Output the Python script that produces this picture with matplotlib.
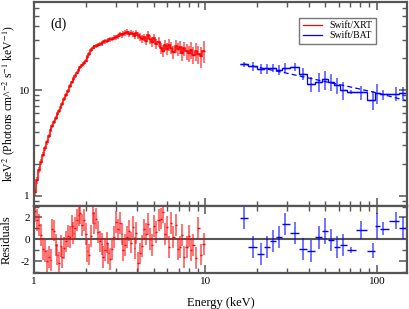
import numpy as np
import matplotlib
matplotlib.use("Agg")
from matplotlib import pyplot as plt
from matplotlib.lines import Line2D
from matplotlib.ticker import LogLocator, NullFormatter, FixedLocator, FixedFormatter

plt.rcParams['font.family'] = ['Liberation Serif', 'DejaVu Serif']
plt.rcParams['mathtext.fontset'] = 'stix'
plt.rcParams['axes.unicode_minus'] = False

## Swift/XRT spectrum, keV^2 (Photons cm^-2 s^-1 keV^-1)
xrt_energy = [1.01, 1.04, 1.07, 1.10, 1.13, 1.16, 1.19, 1.22, 1.25, 1.28,
              1.31, 1.34, 1.37, 1.40, 1.43, 1.46, 1.50, 1.54, 1.58, 1.62,
              1.66, 1.70, 1.74, 1.78, 1.82, 1.86, 1.90, 1.95, 2.00, 2.05,
              2.10, 2.15, 2.20, 2.25, 2.30, 2.36, 2.42, 2.48, 2.54, 2.60,
              2.66, 2.72, 2.79, 2.86, 2.93, 3.00, 3.08, 3.16, 3.24, 3.32,
              3.40, 3.49, 3.58, 3.67, 3.76, 3.86, 3.96, 4.06, 4.17, 4.28,
              4.40, 4.52, 4.64, 4.77, 4.90, 5.04, 5.18, 5.33, 5.48, 5.64,
              5.80, 5.97, 6.14, 6.32, 6.51, 6.70, 6.90, 7.10, 7.32, 7.54,
              7.77, 8.01, 8.26, 8.52, 8.80, 9.10, 9.42, 9.76]
xrt_flux = [1.08, 1.40, 1.75, 2.10, 2.45, 2.80, 3.20, 3.70, 4.20, 4.55,
            4.95, 5.40, 5.90, 6.35, 6.85, 7.40, 8.20, 9.00, 9.80, 10.9,
            11.8, 12.7, 13.6, 14.6, 15.5, 16.4, 17.1, 18.0, 19.0, 20.5,
            22.0, 23.8, 25.2, 25.9, 26.3, 26.8, 27.4, 27.2, 28.3, 28.8,
            29.0, 29.6, 30.2, 30.5, 31.2, 31.5, 32.4, 33.6, 33.0, 34.2,
            34.6, 35.4, 34.0, 35.0, 33.8, 32.6, 34.5, 33.0, 31.8, 30.4,
            31.6, 29.0, 33.5, 30.2, 28.6, 31.0, 27.2, 28.4, 25.0, 23.6,
            26.4, 24.6, 26.8, 25.2, 23.0, 26.0, 24.4, 25.6, 22.6, 24.8,
            23.2, 22.4, 24.0, 21.6, 23.4, 22.0, 20.8, 23.4]
xrt_err = [0.09, 0.10, 0.12, 0.13, 0.14, 0.15, 0.16, 0.18, 0.20, 0.21,
           0.22, 0.24, 0.25, 0.27, 0.28, 0.30, 0.33, 0.36, 0.39, 0.43,
           0.46, 0.50, 0.53, 0.57, 0.60, 0.64, 0.67, 0.70, 0.75, 0.82,
           0.88, 0.95, 1.0, 1.05, 1.1, 1.1, 1.2, 1.2, 1.3, 1.3,
           1.4, 1.4, 1.5, 1.5, 1.6, 1.6, 1.7, 1.8, 1.8, 1.9,
           2.0, 2.0, 2.1, 2.2, 2.2, 2.3, 2.4, 2.4, 2.5, 2.5,
           2.6, 2.6, 2.8, 2.8, 2.8, 3.0, 2.9, 3.0, 2.9, 2.9,
           3.1, 3.1, 3.3, 3.3, 3.2, 3.5, 3.5, 3.7, 3.6, 3.9,
           3.9, 3.9, 4.2, 4.0, 4.4, 4.3, 4.6, 5.5]
xrt_resid = [2.6, 1.8, 1.3, 0.4, -0.9, -1.1, -2.0, -1.6, -1.9, 0.9,
             0.8, -0.5, -1.4, -2.2, -0.6, -1.6, -0.8, -0.2, 0.3, 0.2,
             1.2, 0.6, 1.0, 1.8, 2.2, 2.4, 1.3, 1.8, 0.5, -1.1,
             -1.4, 0.3, 2.4, 1.5, 1.9, 0.7, -0.2, -0.4, -1.6, -1.0,
             -0.3, -1.3, -1.8, -0.9, 0.2, 1.6, 0.9, 1.5, 0.5, -1.0,
             -0.5, 0.2, 0.8, -0.3, 1.1, -0.8, 0.6, -2.2, -1.3, -0.6,
             0.9, 0.5, 1.4, 0.0, -0.5, 1.2, 0.7, 1.8, 1.9, 2.5,
             0.5, 1.1, -0.7, 1.5, 0.2, 1.3, -0.9, -0.7, 0.4, -1.6,
             -0.7, 0.3, -1.0, -0.5, -1.7, 1.0, -1.4, -0.4]

## Swift/BAT spectrum
bat_energy = [16.8, 18.9, 21.0, 23.0, 24.9, 27.0, 29.0, 33.1, 37.2, 41.1,
              46.0, 49.7, 53.9, 58.9, 63.8, 71.0, 81.0, 94.6, 100.0, 109.0,
              129.0, 142.0]
bat_flux = [17.6, 16.8, 15.8, 16.0, 16.3, 15.6, 16.2, 16.6, 14.2, 11.4,
            12.0, 12.6, 12.0, 11.1, 10.0, 9.6, 9.5, 8.1, 9.3, 9.1,
            9.2, 9.4]
bat_err = [1.0, 1.5, 1.7, 1.7, 1.5, 1.8, 1.7, 1.6, 1.8, 1.8,
           2.4, 2.6, 2.2, 2.0, 2.0, 0.4, 1.4, 1.6, 2.0, 1.0,
           1.4, 1.2]
bat_resid = [1.93, -0.73, -1.35, -0.68, -0.13, 0.24, 1.40, 0.55, -0.92, -1.05,
             0.18, 0.79, -0.06, -0.73, -0.52, -0.98, 0.85, -1.05, 1.22, 0.97,
             1.71, 1.01]
bat_resid_err = [1.0, 1.0, 1.0, 1.0, 1.0, 1.0, 1.0, 1.0, 1.0, 1.0,
                 1.05, 1.2, 1.0, 1.0, 1.0, 0.25, 0.8, 0.7, 1.2, 0.6,
                 0.8, 1.0]

## BAT model component (dashed)
bat_model_energy = [16.8, 20, 30, 40, 50, 60, 70, 80, 100, 120, 150]
bat_model_flux = [17.6, 16.5, 14.4, 13.0, 12.0, 11.3, 10.7, 10.2, 9.4, 8.7, 7.9]

RED = '#ff0000'
BLUE = '#0000ff'
FRAME = '#555555'


def bin_edges(e):
    e = np.asarray(e, float)
    mids = np.sqrt(e[1:] * e[:-1])
    return np.concatenate([[e[0] ** 2 / mids[0]], mids, [e[-1] ** 2 / mids[-1]]])


def draw_points(ax, e, y, yerr, color):
    edges = bin_edges(e)
    e = np.asarray(e)
    xerr = [e - edges[:-1], edges[1:] - e]
    ax.errorbar(e, y, yerr=yerr, fmt='none', ecolor=color, elinewidth=1.4,
                alpha=0.55, capsize=0)
    ax.errorbar(e, y, xerr=xerr, fmt='none', ecolor=color, elinewidth=1.0,
                capsize=0)
    return edges


def style_axis(ax):
    for sp in ax.spines.values():
        sp.set_color(FRAME)
        sp.set_linewidth(1.6)
    ax.tick_params(which='both', direction='in', top=True, right=True,
                   color=FRAME, labelsize=8, pad=3)
    ax.tick_params(which='major', length=6, width=1.1)
    ax.tick_params(which='minor', length=3.5, width=1.0)


fig = plt.figure(figsize=(4.09, 3.09), dpi=100)
ax = fig.add_axes([0.0831, 0.3333, 0.912, 0.6602])
axr = fig.add_axes([0.0831, 0.1181, 0.912, 0.2152], sharex=ax)

# top panel: spectrum
edges = draw_points(ax, xrt_energy, xrt_flux, xrt_err, RED)
ax.stairs(xrt_flux, edges, baseline=None, color=RED, lw=1.1)
edges = draw_points(ax, bat_energy, bat_flux, bat_err, BLUE)
ax.stairs(bat_flux, edges, baseline=None, color=BLUE, lw=0.9)
ax.plot(bat_model_energy, bat_model_flux, color=BLUE, lw=0.9, ls=(0, (4, 2.5)))

ax.set_xscale('log')
ax.set_yscale('log')
ax.set_xlim(1, 150)
ax.set_ylim(0.8, 68)
ax.yaxis.set_major_locator(FixedLocator([1, 10]))
ax.yaxis.set_major_formatter(FixedFormatter(['1', '10']))
ax.yaxis.set_minor_locator(LogLocator(base=10, subs=np.arange(2, 10)))
ax.yaxis.set_minor_formatter(NullFormatter())
style_axis(ax)
ax.tick_params(labelbottom=False)
ax.set_ylabel(r'keV$^2$ (Photons cm^$^{-2}$ s$^{-1}$ keV$^{-1}$)', fontsize=8.4,
              labelpad=1)
ax.text(0.043, 0.89, '(d)', transform=ax.transAxes, fontsize=10,
        va='center', ha='left')

handles = [Line2D([], [], color=RED, lw=0.9), Line2D([], [], color=BLUE, lw=0.9)]
leg = ax.legend(handles, ['Swift/XRT', 'Swift/BAT'], loc='upper right',
                bbox_to_anchor=(0.917, 0.922), fontsize=7, frameon=True,
                fancybox=False, handlelength=2.0, handletextpad=0.8,
                borderpad=0.35, labelspacing=0.1, borderaxespad=0)
leg.get_frame().set_edgecolor(FRAME)
leg.get_frame().set_linewidth(1.0)

# bottom panel: residuals
axr.axhline(0, color=FRAME, lw=1.5, zorder=1)
draw_points(axr, xrt_energy, xrt_resid, 1.0, RED)
draw_points(axr, bat_energy, bat_resid, bat_resid_err, BLUE)
axr.set_ylim(-3.05, 3.05)
axr.yaxis.set_major_locator(FixedLocator([-2, 0, 2]))
axr.yaxis.set_minor_locator(FixedLocator([-3, -1, 1, 3]))
style_axis(axr)
axr.xaxis.set_major_locator(FixedLocator([1, 10, 100]))
axr.xaxis.set_major_formatter(FixedFormatter(['1', '10', '100']))
axr.xaxis.set_minor_locator(LogLocator(base=10, subs=np.arange(2, 10)))
axr.xaxis.set_minor_formatter(NullFormatter())
axr.set_ylabel('Residuals', fontsize=9, labelpad=6)
axr.set_xlabel('Energy (keV)', fontsize=9, labelpad=8)

fig.savefig('out.png', dpi=100)
